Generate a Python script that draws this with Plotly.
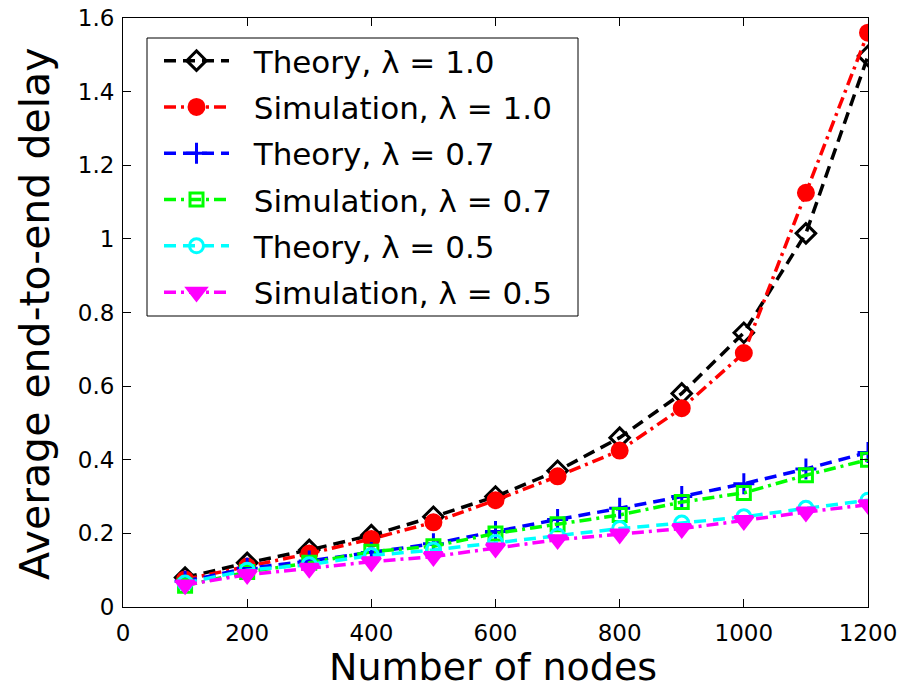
import plotly.graph_objects as go

nodes = [100, 200, 300, 400, 500, 600, 700, 800, 900, 1000, 1100, 1200]
theory_10 = [0.08, 0.12, 0.155, 0.195, 0.245, 0.30, 0.37, 0.46, 0.58, 0.745, 1.015, 1.497]
sim_10 = [0.075, 0.11, 0.145, 0.185, 0.23, 0.29, 0.355, 0.425, 0.54, 0.69, 1.125, 1.56]
theory_07 = [0.07, 0.105, 0.125, 0.148, 0.172, 0.205, 0.238, 0.268, 0.30, 0.335, 0.375, 0.42]
sim_07 = [0.058, 0.095, 0.12, 0.15, 0.165, 0.20, 0.225, 0.25, 0.285, 0.31, 0.358, 0.40]
theory_05 = [0.065, 0.10, 0.115, 0.14, 0.155, 0.175, 0.193, 0.213, 0.228, 0.245, 0.268, 0.29]
sim_05 = [0.06, 0.088, 0.105, 0.123, 0.137, 0.16, 0.183, 0.198, 0.213, 0.235, 0.258, 0.278]

names = ["Theory, λ = 1.0", "Simulation, λ = 1.0", "Theory, λ = 0.7",
         "Simulation, λ = 0.7", "Theory, λ = 0.5", "Simulation, λ = 0.5"]

DASH = "12px,7px"
DASHDOT = "12px,5px,3px,5px"

styles = [
    ("#000000", DASH, "diamond-open", 15),
    ("#ff0000", DASHDOT, "circle", 15),
    ("#0000ff", DASH, "cross-thin-open", 15),
    ("#00ff00", DASHDOT, "square-open", 13),
    ("#00ffff", DASH, "circle-open", 14),
    ("#ff00ff", DASHDOT, "triangle-down", 16),
]
values = [theory_10, sim_10, theory_07, sim_07, theory_05, sim_05]

fig = go.Figure()
for i, (name, vals, (col, dash, sym, size)) in enumerate(zip(names, values, styles)):
    fig.add_trace(go.Scatter(
        x=nodes, y=vals, name="\u00a0\u00a0" + name, mode="lines+markers",
        line=dict(color=col, width=3.5, dash=dash),
        marker=dict(symbol=sym, size=size, color=col, line=dict(color=col, width=3)),
        legendgroup=f"g{i}",
    ))

font = "DejaVu Sans, Liberation Sans, Arial, sans-serif"
axis_common = dict(
    showline=True, linecolor="black", linewidth=1, mirror="ticks",
    ticks="inside", ticklen=8, tickcolor="black",
    showgrid=False, zeroline=False,
    tickfont=dict(family=font, size=23, color="black"),
)
fig.update_xaxes(range=[0, 1200], dtick=200, tick0=0, ticklabelstandoff=5, **axis_common)
fig.update_yaxes(range=[0, 1.6], dtick=0.2, tick0=0, ticklabelstandoff=3, **axis_common)

# plot area in pixels: x 123..868, y 18..607
def px_x(p):
    return (p - 123) / 745.0

def px_y(p):
    return (607 - p) / 589.0

fig.add_annotation(text="Number of nodes", xref="paper", yref="paper",
                   x=px_x(493), y=px_y(667), xanchor="center", yanchor="middle",
                   showarrow=False, font=dict(family=font, size=38, color="black"))
fig.add_annotation(text="Average end-to-end delay", xref="paper", yref="paper",
                   x=px_x(35), y=px_y(314), xanchor="center", yanchor="middle", textangle=-90,
                   showarrow=False, font=dict(family=font, size=41, color="black"))

# legend frame
fig.add_shape(type="rect", xref="paper", yref="paper",
              x0=px_x(147), x1=px_x(578), y0=px_y(316), y1=px_y(38),
              line=dict(color="black", width=1), fillcolor="white", layer="above")

fig.update_layout(
    width=900, height=689,
    margin=dict(l=123, r=32, t=18, b=82, autoexpand=False),
    paper_bgcolor="white", plot_bgcolor="white",
    font=dict(family=font, color="black"),
    legend=dict(
        x=px_x(159), y=px_y(34), xanchor="left", yanchor="top",
        bgcolor="rgba(0,0,0,0)", borderwidth=0,
        font=dict(family=font, size=31, color="black"),
        itemwidth=65, traceorder="grouped", tracegroupgap=3,
    ),
    showlegend=True,
)

fig.write_html("out.html", config={"displayModeBar": False},
               post_script="document.body.style.margin='0';document.body.style.overflow='hidden';")
